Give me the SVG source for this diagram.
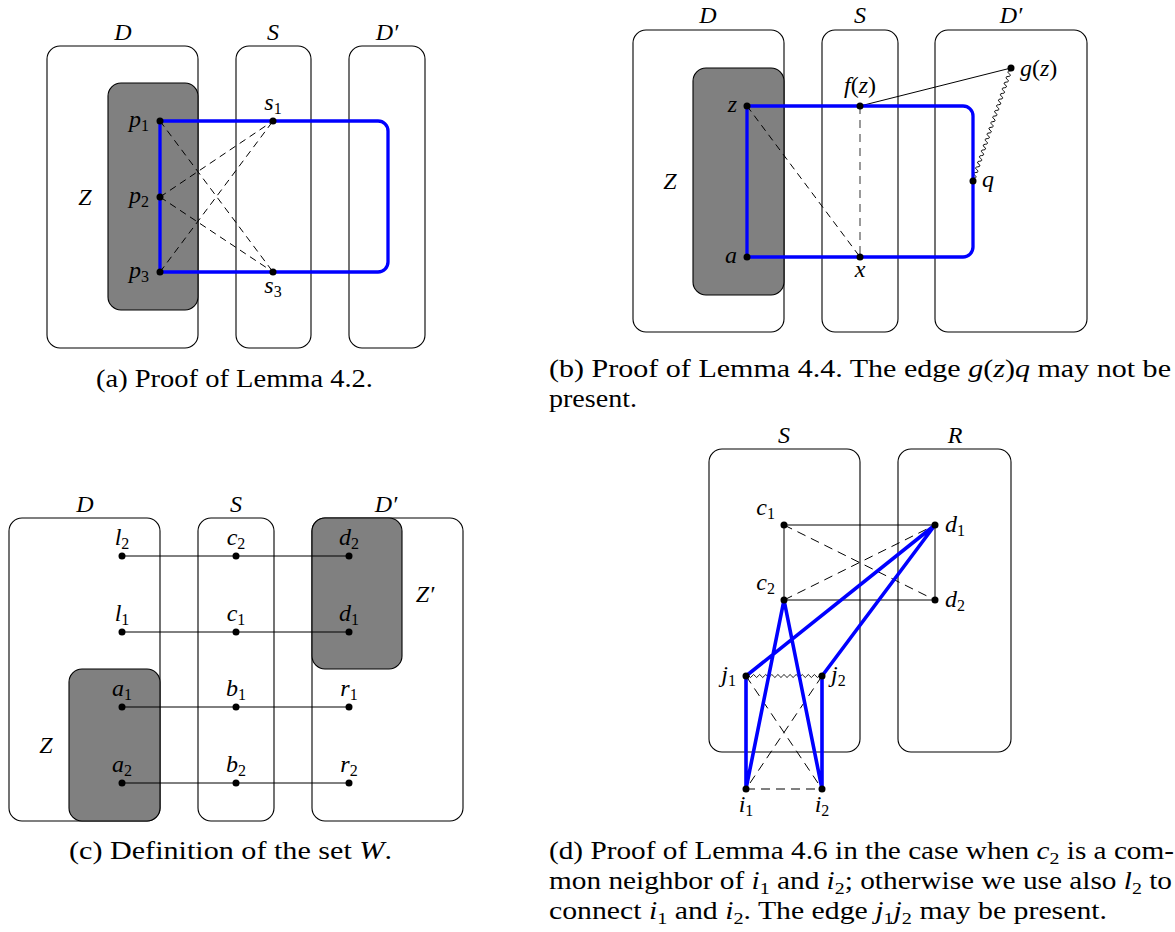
<svg xmlns="http://www.w3.org/2000/svg" width="1175" height="932" viewBox="0 0 1175 932" font-family="Liberation Serif, serif">
<style>
.box{fill:none;stroke:#000;stroke-width:1.1}
.gray{fill:#808080;stroke:#000;stroke-width:1.1}
.thin{fill:none;stroke:#000;stroke-width:1}
.dash{fill:none;stroke:#000;stroke-width:1;stroke-dasharray:7 5}
.gdash{fill:none;stroke:#808080;stroke-width:1.6;stroke-dasharray:8 6}
.blue{fill:none;stroke:#0000ff;stroke-width:3.3;stroke-linejoin:round}
.wave{fill:none;stroke:#000;stroke-width:0.9}
.dot{fill:#000}
.m{font-family:Liberation Serif, serif;font-style:italic;font-size:24px;fill:#000}
.n{font-style:normal}
.s{font-style:normal;font-size:16px}
.cap{font-family:Liberation Serif, serif;font-size:25px;fill:#000}
.ci{font-style:italic}
.cs{font-size:17px}
</style>

<!-- ===== Panel (a) ===== -->
<g id="a-D"><rect class="box" x="47" y="46" width="151" height="302" rx="13"/><text class="m" x="123" y="40" text-anchor="middle">D</text></g>
<g id="a-S"><rect class="box" x="236" y="46" width="75" height="302" rx="13"/><text class="m" x="273" y="40" text-anchor="middle">S</text></g>
<g id="a-Dp"><rect class="box" x="349" y="46" width="76" height="302" rx="13"/><text class="m" x="387" y="40" text-anchor="middle">D′</text></g>
<g id="a-Z"><rect class="gray" x="108" y="83" width="90" height="227" rx="13"/><text class="m" x="85" y="205" text-anchor="middle">Z</text></g>
<g id="a-edges">
<path class="dash" d="M160,121 L273,272 M160,197 L273,121 M160,197 L273,272 M160,272 L273,121"/>
<path class="blue" d="M160,121 H378 A10,10 0 0 1 388,131 V262 A10,10 0 0 1 378,272 H160 Z"/>
</g>
<g id="a-p1"><circle class="dot" cx="160" cy="121" r="3.5"/><text class="m" x="149" y="127" text-anchor="end">p<tspan class="s" dy="4">1</tspan></text></g>
<g id="a-p2"><circle class="dot" cx="160" cy="197" r="3.5"/><text class="m" x="149" y="203" text-anchor="end">p<tspan class="s" dy="4">2</tspan></text></g>
<g id="a-p3"><circle class="dot" cx="160" cy="272" r="3.5"/><text class="m" x="149" y="278" text-anchor="end">p<tspan class="s" dy="4">3</tspan></text></g>
<g id="a-s1"><circle class="dot" cx="273" cy="121" r="3.5"/><text class="m" x="273" y="110" text-anchor="middle">s<tspan class="s" dy="4">1</tspan></text></g>
<g id="a-s3"><circle class="dot" cx="273" cy="272" r="3.5"/><text class="m" x="273" y="293" text-anchor="middle">s<tspan class="s" dy="4">3</tspan></text></g>
<g id="a-caption"><text class="cap" x="96" y="387" textLength="277" lengthAdjust="spacingAndGlyphs">(a) Proof of Lemma 4.2.</text></g>

<!-- ===== Panel (b) ===== -->
<g id="b-D"><rect class="box" x="633" y="30" width="151" height="302" rx="13"/><text class="m" x="708" y="23" text-anchor="middle">D</text></g>
<g id="b-S"><rect class="box" x="822" y="30" width="76" height="302" rx="13"/><text class="m" x="860" y="23" text-anchor="middle">S</text></g>
<g id="b-Dp"><rect class="box" x="935" y="30" width="152" height="302" rx="13"/><text class="m" x="1011" y="23" text-anchor="middle">D′</text></g>
<g id="b-Z"><rect class="gray" x="693" y="68" width="91" height="227" rx="13"/><text class="m" x="670" y="189" text-anchor="middle">Z</text></g>
<g id="b-edges">
<path class="dash" d="M747,106 L860,257"/>
<path class="gdash" d="M860,106 L860,257"/>
<path class="thin" d="M860,106 L1011,68"/>
<path class="wave" transform="translate(1011,68) rotate(108.59)" d="M0,0 q1.49,-3.5 2.98,0 t2.98,0 t2.98,0 t2.98,0 t2.98,0 t2.98,0 t2.98,0 t2.98,0 t2.98,0 t2.98,0 t2.98,0 t2.98,0 t2.98,0 t2.98,0 t2.98,0 t2.98,0 t2.98,0 t2.98,0 t2.98,0 t2.98,0 t2.98,0 t2.98,0 t2.98,0 t2.98,0 t2.98,0 t2.98,0 t2.98,0 t2.98,0 t2.98,0 t2.98,0 t2.98,0 t2.98,0 t2.98,0 t2.98,0 t2.98,0 t2.98,0 t2.98,0 t2.98,0 t2.98,0 t2.98,0"/>
<path class="blue" d="M747,106 H963 A10,10 0 0 1 973,116 V247 A10,10 0 0 1 963,257 H747 Z"/>
</g>
<g id="b-z"><circle class="dot" cx="747" cy="106" r="3.5"/><text class="m" x="737" y="112" text-anchor="end">z</text></g>
<g id="b-a"><circle class="dot" cx="747" cy="257" r="3.5"/><text class="m" x="737" y="263" text-anchor="end">a</text></g>
<g id="b-fz"><circle class="dot" cx="860" cy="106" r="3.5"/><text class="m" x="860" y="93" text-anchor="middle">f<tspan class="n">(</tspan>z<tspan class="n">)</tspan></text></g>
<g id="b-x"><circle class="dot" cx="860" cy="257" r="3.5"/><text class="m" x="860" y="277" text-anchor="middle">x</text></g>
<g id="b-gz"><circle class="dot" cx="1011" cy="68" r="3.5"/><text class="m" x="1020" y="76">g<tspan class="n">(</tspan>z<tspan class="n">)</tspan></text></g>
<g id="b-q"><circle class="dot" cx="973" cy="181" r="3.5"/><text class="m" x="982" y="187">q</text></g>
<g id="b-caption">
<text class="cap" x="549" y="377" textLength="622" lengthAdjust="spacingAndGlyphs">(b) Proof of Lemma 4.4. The edge <tspan class="ci">g</tspan>(<tspan class="ci">z</tspan>)<tspan class="ci">q</tspan> may not be</text>
<text class="cap" x="549" y="407" textLength="88" lengthAdjust="spacingAndGlyphs">present.</text>
</g>

<!-- ===== Panel (c) ===== -->
<g id="c-D"><rect class="box" x="9" y="518" width="151" height="303" rx="13"/><text class="m" x="85" y="512" text-anchor="middle">D</text></g>
<g id="c-S"><rect class="box" x="198" y="518" width="76" height="303" rx="13"/><text class="m" x="236" y="512" text-anchor="middle">S</text></g>
<g id="c-Dp"><rect class="box" x="312" y="518" width="151" height="303" rx="13"/><text class="m" x="386" y="512" text-anchor="middle">D′</text></g>
<g id="c-Z"><rect class="gray" x="69" y="669" width="91" height="152" rx="13"/><text class="m" x="46" y="753" text-anchor="middle">Z</text></g>
<g id="c-Zp"><rect class="gray" x="312" y="518" width="90" height="151" rx="13"/><text class="m" x="425" y="602" text-anchor="middle">Z′</text></g>
<g id="c-edges">
<path class="thin" d="M122,556 H349 M122,632 H349 M122,707 H349 M122,783 H349"/>
</g>
<g id="c-l2"><circle class="dot" cx="122" cy="556" r="3.5"/><text class="m" x="122" y="545" text-anchor="middle">l<tspan class="s" dy="4">2</tspan></text></g>
<g id="c-c2"><circle class="dot" cx="236" cy="556" r="3.5"/><text class="m" x="236" y="545" text-anchor="middle">c<tspan class="s" dy="4">2</tspan></text></g>
<g id="c-d2"><circle class="dot" cx="349" cy="556" r="3.5"/><text class="m" x="349" y="545" text-anchor="middle">d<tspan class="s" dy="4">2</tspan></text></g>
<g id="c-l1"><circle class="dot" cx="122" cy="632" r="3.5"/><text class="m" x="122" y="621" text-anchor="middle">l<tspan class="s" dy="4">1</tspan></text></g>
<g id="c-c1"><circle class="dot" cx="236" cy="632" r="3.5"/><text class="m" x="236" y="621" text-anchor="middle">c<tspan class="s" dy="4">1</tspan></text></g>
<g id="c-d1"><circle class="dot" cx="349" cy="632" r="3.5"/><text class="m" x="349" y="621" text-anchor="middle">d<tspan class="s" dy="4">1</tspan></text></g>
<g id="c-a1"><circle class="dot" cx="122" cy="707" r="3.5"/><text class="m" x="122" y="696" text-anchor="middle">a<tspan class="s" dy="4">1</tspan></text></g>
<g id="c-b1"><circle class="dot" cx="236" cy="707" r="3.5"/><text class="m" x="236" y="696" text-anchor="middle">b<tspan class="s" dy="4">1</tspan></text></g>
<g id="c-r1"><circle class="dot" cx="349" cy="707" r="3.5"/><text class="m" x="349" y="696" text-anchor="middle">r<tspan class="s" dy="4">1</tspan></text></g>
<g id="c-a2"><circle class="dot" cx="122" cy="783" r="3.5"/><text class="m" x="122" y="772" text-anchor="middle">a<tspan class="s" dy="4">2</tspan></text></g>
<g id="c-b2"><circle class="dot" cx="236" cy="783" r="3.5"/><text class="m" x="236" y="772" text-anchor="middle">b<tspan class="s" dy="4">2</tspan></text></g>
<g id="c-r2"><circle class="dot" cx="349" cy="783" r="3.5"/><text class="m" x="349" y="772" text-anchor="middle">r<tspan class="s" dy="4">2</tspan></text></g>
<g id="c-caption"><text class="cap" x="69" y="859" textLength="323" lengthAdjust="spacingAndGlyphs">(c) Definition of the set <tspan class="ci">W</tspan>.</text></g>

<!-- ===== Panel (d) ===== -->
<g id="d-S"><rect class="box" x="709" y="449" width="151" height="303" rx="13"/><text class="m" x="784" y="443" text-anchor="middle">S</text></g>
<g id="d-R"><rect class="box" x="898" y="449" width="113" height="303" rx="13"/><text class="m" x="955" y="443" text-anchor="middle">R</text></g>
<g id="d-edges">
<path class="thin" d="M784,525 H935 V600 H784 Z"/>
<path class="dash" style="stroke-dasharray:9 6" d="M784,525 L935,600 M784,600 L935,525 M746,676 L822,789 M822,676 L746,789 M746,789 H822"/>
<path class="wave" d="M746,676 q1.52,-3 3.04,0 t3.04,0 t3.04,0 t3.04,0 t3.04,0 t3.04,0 t3.04,0 t3.04,0 t3.04,0 t3.04,0 t3.04,0 t3.04,0 t3.04,0 t3.04,0 t3.04,0 t3.04,0 t3.04,0 t3.04,0 t3.04,0 t3.04,0 t3.04,0 t3.04,0 t3.04,0 t3.04,0 t3.04,0"/>
<path class="blue" style="stroke-width:3.6" d="M746,676 L935,525 M822,676 L935,525 M784,600 L746,789 M784,600 L822,789 M746,676 V789 M822,676 V789"/>
</g>
<g id="d-c1"><circle class="dot" cx="784" cy="525" r="3.5"/><text class="m" x="775" y="515" text-anchor="end">c<tspan class="s" dy="4">1</tspan></text></g>
<g id="d-d1"><circle class="dot" cx="935" cy="525" r="3.5"/><text class="m" x="945" y="532">d<tspan class="s" dy="4">1</tspan></text></g>
<g id="d-c2"><circle class="dot" cx="784" cy="600" r="3.5"/><text class="m" x="775" y="590" text-anchor="end">c<tspan class="s" dy="4">2</tspan></text></g>
<g id="d-d2"><circle class="dot" cx="935" cy="600" r="3.5"/><text class="m" x="945" y="607">d<tspan class="s" dy="4">2</tspan></text></g>
<g id="d-j1"><circle class="dot" cx="746" cy="676" r="3.5"/><text class="m" x="736" y="682" text-anchor="end">j<tspan class="s" dy="4">1</tspan></text></g>
<g id="d-j2"><circle class="dot" cx="822" cy="676" r="3.5"/><text class="m" x="831" y="682">j<tspan class="s" dy="4">2</tspan></text></g>
<g id="d-i1"><circle class="dot" cx="746" cy="789" r="3.5"/><text class="m" x="746" y="812" text-anchor="middle">i<tspan class="s" dy="4">1</tspan></text></g>
<g id="d-i2"><circle class="dot" cx="822" cy="789" r="3.5"/><text class="m" x="822" y="812" text-anchor="middle">i<tspan class="s" dy="4">2</tspan></text></g>
<g id="d-caption">
<text class="cap" x="549" y="859" textLength="625" lengthAdjust="spacingAndGlyphs">(d) Proof of Lemma 4.6 in the case when <tspan class="ci">c</tspan><tspan class="cs" dy="5">2</tspan><tspan dy="-5"> is a com-</tspan></text>
<text class="cap" x="549" y="889" textLength="623" lengthAdjust="spacingAndGlyphs">mon neighbor of <tspan class="ci">i</tspan><tspan class="cs" dy="5">1</tspan><tspan dy="-5"> and </tspan><tspan class="ci">i</tspan><tspan class="cs" dy="5">2</tspan><tspan dy="-5">; otherwise we use also </tspan><tspan class="ci">l</tspan><tspan class="cs" dy="5">2</tspan><tspan dy="-5"> to</tspan></text>
<text class="cap" x="549" y="919" textLength="558" lengthAdjust="spacingAndGlyphs">connect <tspan class="ci">i</tspan><tspan class="cs" dy="5">1</tspan><tspan dy="-5"> and </tspan><tspan class="ci">i</tspan><tspan class="cs" dy="5">2</tspan><tspan dy="-5">. The edge </tspan><tspan class="ci">j</tspan><tspan class="cs" dy="5">1</tspan><tspan class="ci" dy="-5">j</tspan><tspan class="cs" dy="5">2</tspan><tspan dy="-5"> may be present.</tspan></text>
</g>
</svg>
